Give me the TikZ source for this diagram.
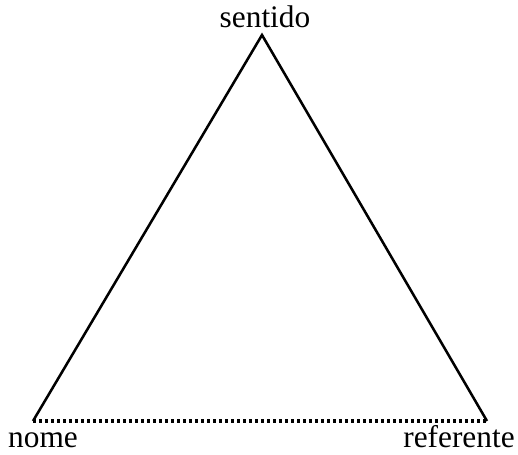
\documentclass[tikz,border=0pt]{standalone}
\usepackage{fontspec}
\setmainfont{Liberation Serif}
\usetikzlibrary{positioning}

\begin{document}
\begin{tikzpicture}[x=0.75pt,y=-0.75pt,
  lbl/.style={anchor=base,inner sep=0pt,font=\fontsize{23.5}{28}\selectfont},
  side/.style={line width=1.9pt,line join=miter},
  dotside/.style={line width=2.8pt,dash pattern=on 2.4pt off 2.1pt}]
\useasboundingbox (0,0) rectangle (518,454);
% vertices
\coordinate (s) at (262,35);
\coordinate (n) at (33,421);
\coordinate (r) at (487,421);
% labels
\node[lbl] (sentido) at (265,27) {sentido};
\node[lbl] (nome) at (43,447) {nome};
\node[lbl] (referente) at (459,447) {referente};
% edges
\draw[side] (n) -- (s) -- (r);
\draw[dotside] (n) -- (r);
\end{tikzpicture}
\end{document}
